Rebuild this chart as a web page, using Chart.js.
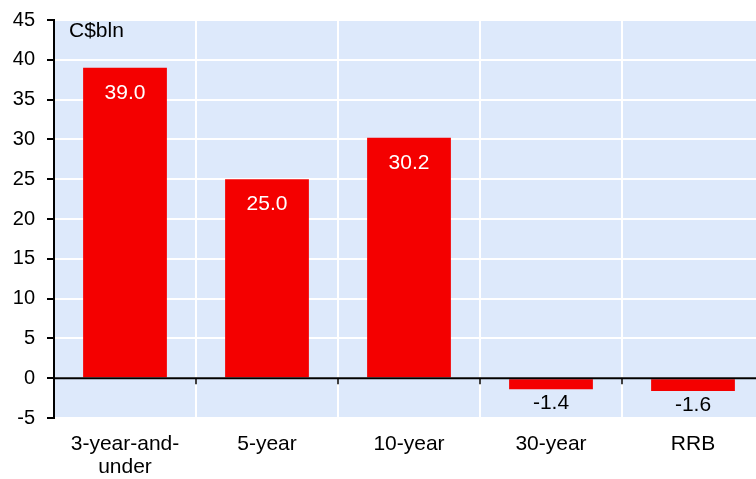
<!DOCTYPE html>
<html>
<head>
<meta charset="utf-8">
<script src="https://cdn.jsdelivr.net/npm/chart.js@4"></script>
<style>
  html, body { margin: 0; padding: 0; background: #ffffff; overflow: hidden; }
  #wrap { width: 764px; height: 479px; position: relative; }
</style>
</head>
<body>
<div id="wrap"><canvas id="barChart"></canvas></div>
<script>
// chart data
var categories = [["3-year-and-", "under"], "5-year", "10-year", "30-year", "RRB"];
var issuance = [39.0, 25.0, 30.2, -1.4, -1.6];
var yTicks = [-5, 0, 5, 10, 15, 20, 25, 30, 35, 40, 45];

var fontName = "'Liberation Sans', Arial, sans-serif";

// fill the plot area with light blue before anything else
var plotBackground = {
  id: 'plotBackground',
  beforeDraw: function(chart) {
    var ctx = chart.ctx, a = chart.chartArea;
    ctx.save();
    ctx.fillStyle = '#dde9fb';
    ctx.fillRect(a.left, a.top, a.right - a.left, a.bottom - a.top);
    ctx.restore();
  }
};

// zero line, category tick marks and value labels
var zeroAndLabels = {
  id: 'zeroAndLabels',
  afterDatasetsDraw: function(chart) {
    var ctx = chart.ctx, a = chart.chartArea;
    var y = chart.scales.y;
    var y0 = y.getPixelForValue(0);
    ctx.save();
    ctx.strokeStyle = '#000000';
    ctx.lineWidth = 2;
    ctx.beginPath();
    ctx.moveTo(a.left, y0);
    ctx.lineTo(a.right, y0);
    ctx.stroke();
    var step = (a.right - a.left) / categories.length;
    ctx.lineWidth = 1.5;
    for (var i = 1; i <= categories.length; i++) {
      var tx = Math.round(a.left + i * step);
      ctx.beginPath();
      ctx.moveTo(tx, y0);
      ctx.lineTo(tx, y0 + 6);
      ctx.stroke();
    }

    // value labels
    var meta = chart.getDatasetMeta(0);
    ctx.font = '21px ' + fontName;
    ctx.textAlign = 'center';
    ctx.textBaseline = 'middle';
    meta.data.forEach(function(bar, idx) {
      var v = issuance[idx];
      if (v >= 0) {
        ctx.fillStyle = '#ffffff';
        ctx.fillText(v.toFixed(1), bar.x, bar.y + 25);
      } else {
        ctx.fillStyle = '#000000';
        ctx.fillText(v.toFixed(1), bar.x, bar.y + 14);
      }
    });

    // unit label
    ctx.fillStyle = '#000000';
    ctx.textAlign = 'left';
    ctx.font = '21px ' + fontName;
    ctx.fillText('C$bln', a.left + 15, a.top + 11);
    ctx.restore();
  }
};

var ctx = document.getElementById('barChart').getContext('2d');
var barChart = new Chart(ctx, {
  type: 'bar',
  data: {
    labels: categories,
    datasets: [
      {
        data: issuance,
        backgroundColor: '#f40000',
        borderWidth: 0,
        categoryPercentage: 1.0,
        barPercentage: 0.59
      }
    ]
  },
  options: {
    responsive: true,
    maintainAspectRatio: false,
    animation: false,
    layout: { padding: { top: 20, right: 0, left: 0, bottom: 0 } },
    plugins: {
      legend: { display: false },
      tooltip: { enabled: false }
    },
    scales: {
      x: {
        offset: true,
        grid: {
          offset: true,
          color: function(c) { return c.index === 0 ? 'rgba(0,0,0,0)' : '#ffffff'; },
          lineWidth: 2,
          drawTicks: false
        },
        border: { display: false },
        ticks: {
          color: '#000000',
          font: { family: fontName, size: 21, lineHeight: 1.1 },
          padding: 15,
          maxRotation: 0,
          autoSkip: false
        },
        afterFit: function(scale) { scale.height = 61; }
      },
      y: {
        min: -5,
        max: 45,
        afterBuildTicks: function(scale) {
          scale.ticks = yTicks.map(function(v) { return { value: v }; });
        },
        grid: {
          color: '#ffffff',
          lineWidth: 2,
          tickColor: '#000000',
          tickLength: 7,
          tickWidth: 2
        },
        border: { display: true, color: '#000000', width: 2 },
        ticks: {
          color: '#000000',
          font: { family: fontName, size: 20, lineHeight: 0.8 },
          padding: 12
        },
        afterFit: function(scale) { scale.width = 54; }
      }
    }
  },
  plugins: [plotBackground, zeroAndLabels]
});
</script>
</body>
</html>
